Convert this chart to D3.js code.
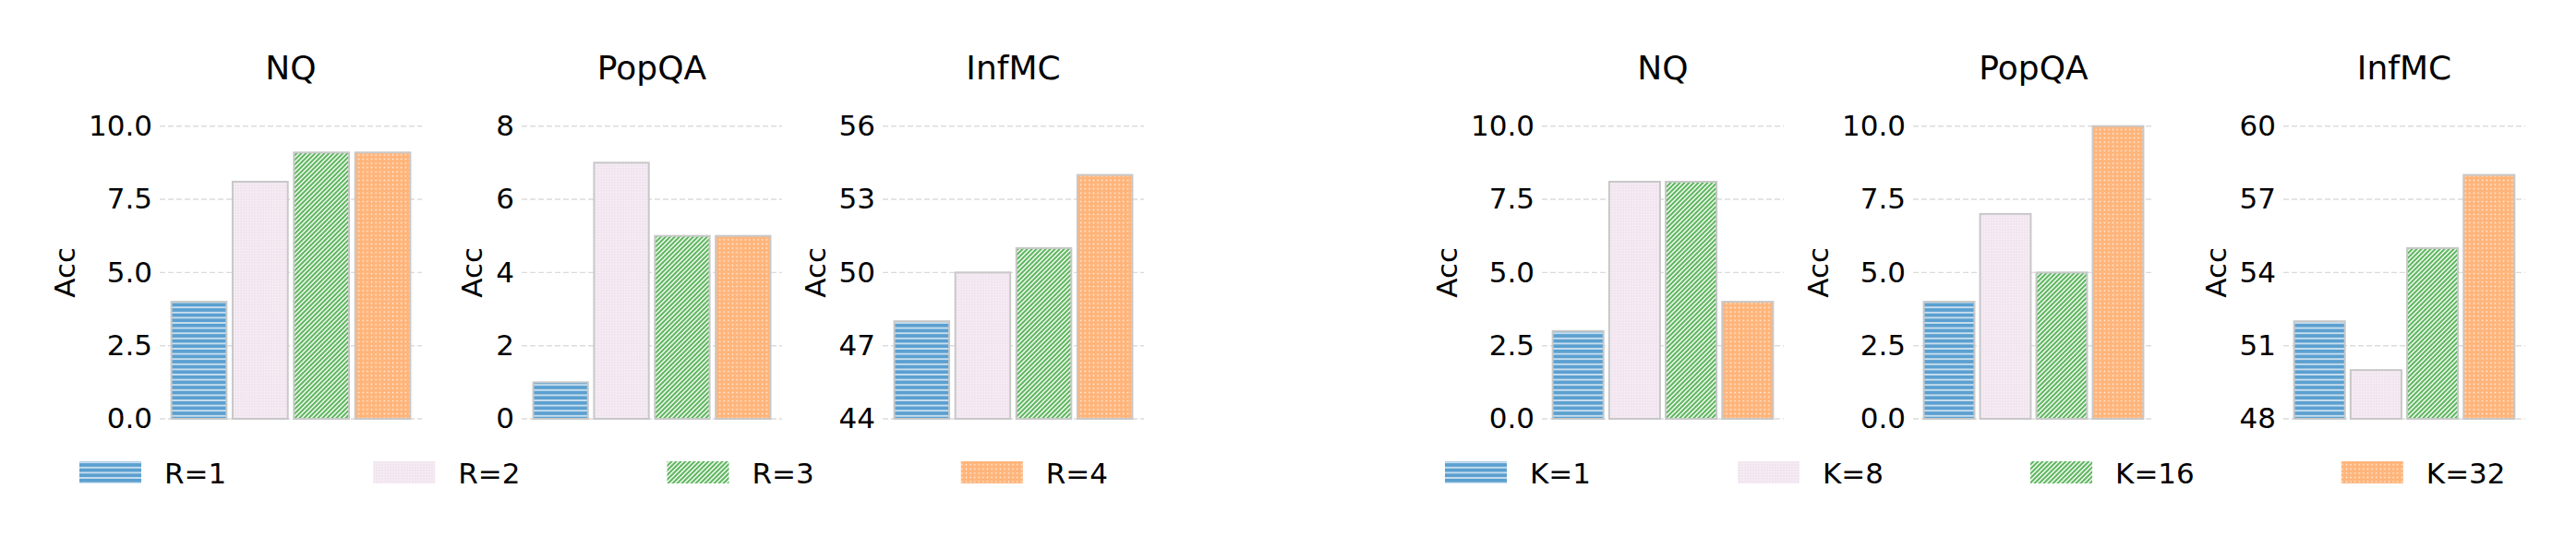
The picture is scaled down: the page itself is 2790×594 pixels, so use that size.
<!DOCTYPE html>
<html lang="en">
<head>
<meta charset="utf-8">
<title>Acc by R and K</title>
<script src="https://cdn.jsdelivr.net/npm/d3@7"></script>
<style>
  body { margin: 0; background: #fff; }
  text { font-family: "DejaVu Sans", sans-serif; fill: #000; }
  .tick text { font-size: 31px; }
  .title { font-size: 36px; }
  .ylab { font-size: 31px; }
  .legtext { font-size: 31px; }
</style>
</head>
<body>
<div id="chart"></div>
<script>
// ---- data ----
var datasets = ["NQ", "PopQA", "InfMC"];
var rLabels = ["R=1", "R=2", "R=3", "R=4"];
var kLabels = ["K=1", "K=8", "K=16", "K=32"];

var rNQ = [4.0, 8.1, 9.1, 9.1];
var rPopQA = [1, 7, 5, 5];
var rInfMC = [48, 50, 51, 54];

var kNQ = [3.0, 8.1, 8.1, 4.0];
var kPopQA = [4, 7, 5, 10];
var kInfMC = [52, 50, 55, 58];

var ticksNQ = [0, 2.5, 5, 7.5, 10];
var ticksPopQAR = [0, 2, 4, 6, 8];
var ticksInfMCR = [44, 47, 50, 53, 56];
var ticksPopQAK = [0, 2.5, 5, 7.5, 10];
var ticksInfMCK = [48, 51, 54, 57, 60];

// ---- layout ----
var w = 2790, h = 594;
var plotTop = 136.7, plotBottom = 454;

var panels = [
  {title: datasets[0], labels: rLabels, values: rNQ,    ticks: ticksNQ,     fmt: ".1f", x0: 173,  x1: 457},
  {title: datasets[1], labels: rLabels, values: rPopQA, ticks: ticksPopQAR, fmt: "d",   x0: 565,  x1: 847},
  {title: datasets[2], labels: rLabels, values: rInfMC, ticks: ticksInfMCR, fmt: "d",   x0: 956,  x1: 1239},
  {title: datasets[0], labels: kLabels, values: kNQ,    ticks: ticksNQ,     fmt: ".1f", x0: 1670, x1: 1932},
  {title: datasets[1], labels: kLabels, values: kPopQA, ticks: ticksPopQAK, fmt: ".1f", x0: 2072, x1: 2333},
  {title: datasets[2], labels: kLabels, values: kInfMC, ticks: ticksInfMCK, fmt: "d",   x0: 2473, x1: 2735}
];

var colors = ["#5ba0d0", "#f2e6f0", "#62b862", "#ffb47a"];
var fills = ["url(#hatchH)", "url(#hatchP)", "url(#hatchD)", "url(#hatchO)"];

var svg = d3.select("#chart").append("svg")
  .attr("width", w)
  .attr("height", h);

// hatch patterns
var defs = svg.append("defs");

var pH = defs.append("pattern").attr("id", "hatchH")
  .attr("patternUnits", "userSpaceOnUse").attr("width", 8).attr("height", 5.6);
pH.append("rect").attr("width", 8).attr("height", 5.6).attr("fill", colors[0]);
pH.append("line").attr("x1", 0).attr("x2", 8).attr("y1", 2.8).attr("y2", 2.8)
  .attr("stroke", "#e4eef6").attr("stroke-width", 1.5);

var pP = defs.append("pattern").attr("id", "hatchP")
  .attr("patternUnits", "userSpaceOnUse").attr("width", 3).attr("height", 3);
pP.append("rect").attr("width", 3).attr("height", 3).attr("fill", colors[1]);
pP.append("rect").attr("x", 1).attr("y", 1).attr("width", 1).attr("height", 1)
  .attr("fill", "#fbf6fa");

var pD = defs.append("pattern").attr("id", "hatchD")
  .attr("patternUnits", "userSpaceOnUse").attr("width", 5).attr("height", 5);
pD.append("rect").attr("width", 5).attr("height", 5).attr("fill", colors[2]);
pD.append("path").attr("d", "M-1,1 l2,-2 M0,5 l5,-5 M4,6 l2,-2")
  .attr("stroke", "#fff").attr("stroke-width", 1.3);

var pO = defs.append("pattern").attr("id", "hatchO")
  .attr("patternUnits", "userSpaceOnUse").attr("width", 4.6).attr("height", 4.6);
pO.append("rect").attr("width", 4.6).attr("height", 4.6).attr("fill", colors[3]);
pO.append("rect").attr("x", 1.6).attr("y", 1.6).attr("width", 1.4).attr("height", 1.4)
  .attr("fill", "#fff").attr("opacity", 0.9);

// panels
panels.forEach(function(p) {
  var g = svg.append("g");

  var xScale = d3.scaleBand()
    .domain(p.labels)
    .range([p.x0, p.x1])
    .paddingInner(0.1)
    .paddingOuter(0.19);

  var yScale = d3.scaleLinear()
    .domain([p.ticks[0], p.ticks[p.ticks.length - 1]])
    .range([plotBottom, plotTop]);

  // grid
  g.selectAll("line.grid")
    .data(p.ticks)
    .enter()
    .append("line")
    .attr("class", "grid")
    .attr("x1", p.x0)
    .attr("x2", p.x1)
    .attr("y1", function(d) { return yScale(d); })
    .attr("y2", function(d) { return yScale(d); })
    .attr("stroke", "#dcdcdc")
    .attr("stroke-width", 1.4)
    .attr("stroke-dasharray", "6,3");

  // bars
  g.selectAll("rect.bar")
    .data(p.values)
    .enter()
    .append("rect")
    .attr("class", "bar")
    .attr("x", function(d, i) { return xScale(p.labels[i]); })
    .attr("y", function(d) { return yScale(d); })
    .attr("width", xScale.bandwidth())
    .attr("height", function(d) { return plotBottom - yScale(d); })
    .attr("fill", function(d, i) { return fills[i]; })
    .attr("stroke", "#c8c8c8")
    .attr("stroke-width", 2);

  // y axis
  var yAxis = d3.axisLeft(yScale)
    .tickValues(p.ticks)
    .tickFormat(d3.format(p.fmt))
    .tickSize(0)
    .tickPadding(8);

  var ax = g.append("g")
    .attr("transform", "translate(" + p.x0 + ",0)")
    .call(yAxis);
  ax.attr("font-family", null).attr("font-size", null);
  ax.select(".domain").remove();

  var bb = ax.node().getBBox();

  g.append("text")
    .attr("class", "ylab")
    .attr("text-anchor", "middle")
    .attr("transform", "translate(" + (p.x0 + bb.x - 15) + "," + ((plotTop + plotBottom) / 2) + ") rotate(-90)")
    .text("Acc");

  g.append("text")
    .attr("class", "title")
    .attr("text-anchor", "middle")
    .attr("x", (p.x0 + p.x1) / 2)
    .attr("y", 85.7)
    .text(p.title);
});

// legends
function drawLegend(labels, startX, sep) {
  var lg = svg.append("g");
  var x = startX;
  labels.forEach(function(lab, i) {
    lg.append("rect")
      .attr("x", x)
      .attr("y", 500)
      .attr("width", 67)
      .attr("height", 24)
      .attr("fill", fills[i]);
    var t = lg.append("text")
      .attr("class", "legtext")
      .attr("x", x + 92)
      .attr("y", 523.5)
      .text(lab);
    x += 92 + t.node().getComputedTextLength() + sep;
  });
}

drawLegend(rLabels, 86, 159);
drawLegend(kLabels, 1565, 159);
</script>
</body>
</html>
